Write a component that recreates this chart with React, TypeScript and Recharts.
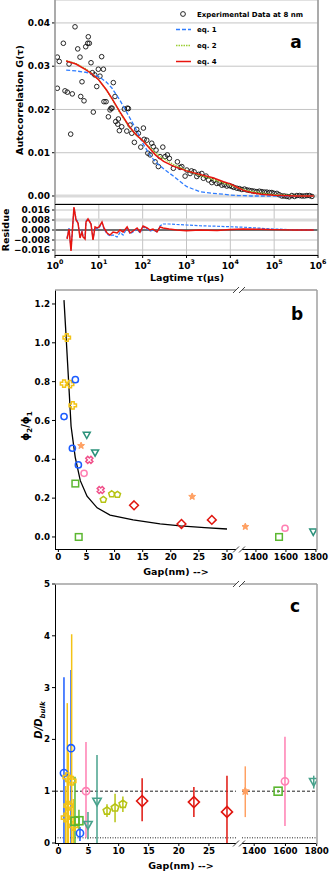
import React from 'react';
import {
  ScatterChart,
  Scatter,
  XAxis,
  YAxis,
  CartesianGrid,
  ReferenceLine,
  ErrorBar,
} from 'recharts';

const FONT = '"DejaVu Sans", Verdana, sans-serif';

// ---------- panel a : autocorrelation ----------
const LOG_TICKS = [1, 10, 100, 1000, 10000, 100000, 1000000];
const G_TICKS = [0, 0.01, 0.02, 0.03, 0.04];
const RES_TICKS = [-0.016, -0.008, 0, 0.008, 0.016];

const expTau = [
  1.13, 1.25, 1.13, 1.55, 1.69, 1.91, 2.09, 2.28, 2.48, 2.86,
  3.3, 3.72, 3.86, 4.13, 4.59, 5.02, 5.58, 5.75, 6.07, 6.63,
  7.11, 7.48, 8.06, 8.96, 9.74, 10.6, 11.6, 12.7, 13.1, 14.6,
  16.5, 18.0, 19.0, 20.0, 21.4, 23.4, 24.3, 27.0, 27.9, 29.4,
  33.3, 38.2, 43.4, 44.8, 47.2, 51.6, 56.4, 64.7, 73.3, 79.8,
  90.6, 104, 108, 124, 131, 148, 161, 175, 192, 202,
  228, 249, 288, 324, 366, 407, 502, 620, 714, 781,
  929, 1016, 1208, 1300, 1492, 1718, 1900, 2235, 2432, 2800,
  3163, 3782, 4200, 4922, 5600, 6397, 7300, 8318, 9500, 10820,
  12000, 14060, 16000, 18320, 21000, 23810, 27000, 30970, 35000, 40270,
  46000, 52360, 60000, 68080, 78000, 88510, 100000, 115300, 130000, 149900,
  170000, 195000, 220000, 253500, 290000, 329600, 380000, 428600, 490000, 558000,
  640000, 725600,
];
const expG = [
  0.0321, 0.0311, 0.0249, 0.0353, 0.0243, 0.024, 0.0305, 0.0143, 0.0236, 0.0391,
  0.034, 0.0321, 0.023, 0.0264, 0.022, 0.0345, 0.0353, 0.0368, 0.0353, 0.0308,
  0.0285, 0.0194, 0.028, 0.0253, 0.0293, 0.0277, 0.0322, 0.0293, 0.0218, 0.0218,
  0.0183, 0.0199, 0.0203, 0.0203, 0.0262, 0.023, 0.0172, 0.0166, 0.0178, 0.0151,
  0.016, 0.0201, 0.015, 0.0203, 0.0202, 0.0164, 0.0145, 0.0124, 0.0154, 0.0145,
  0.0113, 0.0157, 0.0131, 0.0129, 0.0099, 0.0095, 0.0122, 0.0114, 0.0079, 0.0106,
  0.0068, 0.0091, 0.0113, 0.0091, 0.0095, 0.0087, 0.0064, 0.0079, 0.0066, 0.0068,
  0.0046, 0.006, 0.0052, 0.0058, 0.0056, 0.0045, 0.005, 0.0052, 0.0041, 0.0046,
  0.0037, 0.0031, 0.0036, 0.0029, 0.003, 0.0025, 0.0026, 0.0023, 0.0024, 0.0022,
  0.002, 0.0018, 0.0017, 0.0015, 0.0016, 0.0014, 0.0013, 0.0012, 0.0011, 0.001,
  0.0011, 0.001, 0.0009, 0.0009, 0.0008, 0.0008, 0.0006, 0.0006, 0.0003, 0.0,
  0.0, -0.0001, -0.0002, 0.0001, -0.0001, 0.0001, 0.0001, 0.0, 0.0, 0.0001,
  0.0001, -0.0001,
];

const fitTau = [
  1.8, 3, 5, 7, 10, 15, 20, 30, 50, 70, 100, 150, 200, 300, 500, 1000, 2000,
  4000, 7000, 10000, 15000, 20000, 30000, 50000, 100000, 300000, 800000,
];
const fitEq1 = [
  0.0291, 0.0289, 0.0286, 0.0282, 0.0276, 0.0263, 0.0249, 0.0222, 0.0182,
  0.0155, 0.0122, 0.0093, 0.0078, 0.0063, 0.0046, 0.0022, 0.001, 0.0006,
  0.0004, 0.0002, 0.0001, 0.0001, 0.0, 0.0, 0.0, 0.0, 0.0,
];
const fitEq2 = [
  0.0313, 0.0306, 0.0294, 0.0283, 0.0268, 0.0244, 0.0224, 0.0193, 0.0158,
  0.0141, 0.0128, 0.0111, 0.0099, 0.0086, 0.0073, 0.0059, 0.0048, 0.0038,
  0.003, 0.0025, 0.0019, 0.0015, 0.0011, 0.0007, 0.0003, 0.0001, 0.0,
];
const fitEq4 = [
  0.0312, 0.0305, 0.0292, 0.0282, 0.0268, 0.0245, 0.0225, 0.0195, 0.016,
  0.0142, 0.0128, 0.0108, 0.0094, 0.008, 0.0069, 0.0058, 0.005, 0.0042,
  0.0033, 0.0028, 0.0019, 0.0013, 0.0008, 0.0004, 0.0002, 0.0, 0.0,
];

const resTau = [
  1.88, 2.09, 2.32, 2.71, 3.02, 3.35, 3.72, 4.13, 4.36, 4.84,
  5.1, 5.66, 6.63, 7.37, 8.19, 9.1, 10.1, 11.8, 13.1, 15.4,
  18, 21.1, 26.1, 30.5, 35.8, 44.2, 51.6, 60.3, 74.6, 87.1,
  102, 126, 147, 172, 212, 249, 292, 400, 600, 1000,
  2000, 5000, 10000, 20000, 50000, 100000, 300000, 800000,
];
const resEq1 = [
  -0.0064, 0.0016, -0.016, 0.0176, 0.0088, 0.0064, -0.0056, -0.0008, -0.0048, -0.0064,
  0.0072, 0.0088, 0.0056, -0.0072, 0.0016, 0.0008, 0.0016, 0.0056, 0.0008, -0.0032,
  -0.0048, -0.004, -0.0056, -0.002, -0.004, 0.0016, -0.003, -0.0016, 0.0008, -0.0024,
  0.0024, 0.0008, -0.0008, 0, -0.0016, 0.0032, 0.0048, 0.0048, 0.0044, 0.004,
  0.0034, 0.003, 0.0026, 0.0022, 0.0014, 0.0008, 0.0002, 0,
];
const resEq4 = [
  -0.0072, 0.0008, -0.0168, 0.0184, 0.008, 0.0056, -0.0064, -0.0016, -0.0056, -0.0072,
  0.0064, 0.0088, 0.0048, -0.008, 0.0024, 0.0016, 0.0024, 0.0064, 0.0016, -0.0024,
  -0.004, -0.0016, -0.0024, 0, -0.0016, 0.0024, -0.0024, -0.0008, 0.0016, -0.0016,
  0.0032, 0.0016, 0, 0.0008, -0.0016, 0.0024, 0.0016, 0.0008, 0, -0.0005,
  0, -0.0003, 0.0004, 0.0008, 0.0006, 0.0003, 0, 0,
];

// ---------- panel b : phi2/phi1 vs gap ----------
const GAP_TICKS_B = [0, 5, 10, 15, 20, 25, 30];
const GAP_TICKS_C = [0, 5, 10, 15, 20, 25];
const FAR_TICKS = [1400, 1600, 1800];
const PHI_TICKS = [0, 0.2, 0.4, 0.6, 0.8, 1.0, 1.2];
const D_TICKS = [0, 1, 2, 3, 4, 5];

const curveGap = [1.0, 1.3, 1.64, 2.0, 2.26, 3.0, 3.9, 5.1, 6.9, 9.2, 13.3, 18.1, 21.7, 26, 30];
const curveRatio = [1.22, 1.07, 0.895, 0.708, 0.57, 0.41, 0.29, 0.21, 0.15, 0.113, 0.088, 0.067, 0.057, 0.048, 0.041];

const bBlueGap = [1.01, 2.49, 3.02, 3.56];
const bBlueRatio = [0.62, 0.457, 0.81, 0.371];
const bGoldGap = [1.49, 1.01, 2.08, 2.56];
const bGoldRatio = [1.027, 0.79, 0.787, 0.678];
const bTealGap = [5.05, 6.53, 1782];
const bTealRatio = [0.525, 0.434, 0.026];
const bStarGap = [4.04, 23.8, 1329];
const bStarRatio = [0.47, 0.208, 0.053];
const bPinkXGap = [5.51, 7.53];
const bPinkXRatio = [0.397, 0.242];
const bPinkOGap = [4.57, 1594];
const bPinkORatio = [0.328, 0.045];
const bGreenGap = [3.02, 3.62, 1554];
const bGreenRatio = [0.275, 0.0, 0.0];
const bPentGap = [8.0, 9.5, 10.5];
const bPentRatio = [0.192, 0.221, 0.218];
const bRedGap = [13.46, 21.9, 27.3];
const bRedRatio = [0.163, 0.067, 0.088];

// ---------- panel c : D/Dbulk vs gap ----------
const cBlueGap = [0.91, 2.08, 3.57];
const cBlueD = [1.35, 1.83, 0.19];
const cBlueLo = [0, 0, 0.04];
const cBlueHi = [3.2, 3.34, 0.31];
const cGoldGap = [1.19, 1.46, 1.63, 2.19, 2.46];
const cGoldD = [0.49, 1.27, 0.72, 1.2, 0.33];
const cGoldLo = [0, 0, 0, 0, 0];
const cGoldHi = [1.1, 2.7, 1.75, 4.03, 0.85];
const cGreenGap = [2.74, 3.4, 1553];
const cGreenD = [0.42, 0.43, 1.0];
const cGreenLo = [0, 0.25, 0.97];
const cGreenHi = [1.28, 0.64, 1.03];
const cPinkGap = [4.57, 1597];
const cPinkD = [1.0, 1.19];
const cPinkLo = [0.1, 0.33];
const cPinkHi = [1.95, 2.05];
const cTealGap = [4.9, 6.4, 1781];
const cTealD = [0.35, 0.8, 1.18];
const cTealLo = [0.07, 0, 1.05];
const cTealHi = [0.6, 1.7, 1.3];
const cPentGap = [8.06, 9.4, 10.7];
const cPentD = [0.62, 0.68, 0.75];
const cPentLo = [0.5, 0.4, 0.6];
const cPentHi = [0.75, 0.95, 0.9];
const cRedGap = [13.9, 22.5, 28.0];
const cRedD = [0.81, 0.79, 0.6];
const cRedLo = [0.42, 0.5, 0];
const cRedHi = [1.25, 1.08, 1.3];
const cStarGap = [1343];
const cStarD = [1.0];
const cStarLo = [0.5];
const cStarHi = [1.48];

// ---------- helpers ----------
const zip = (xs: number[], ys: number[]) => xs.map((x, i) => ({ x, y: ys[i] }));
const zipErr = (xs: number[], ys: number[], lo: number[], hi: number[]) =>
  xs.map((x, i) => ({ x, y: ys[i], e: [ys[i] - lo[i], hi[i] - ys[i]] }));
const near = (d: any[]) => d.filter((p) => p.x < 100);
const far = (d: any[]) => d.filter((p) => p.x > 1000);

const MINOR: number[] = [];
for (let d = 0; d < 6; d++) for (let k = 2; k < 10; k++) MINOR.push(k * Math.pow(10, d));

const C = {
  blue: '#1b5cff',
  gold: '#f3c316',
  teal: '#2a917a',
  tealC: '#48a28c',
  star: '#ffa062',
  pinkX: '#f0508a',
  pinkO: '#ff7fb2',
  green: '#5cb731',
  pent: '#b7c414',
  red: '#e0160f',
  eq1: '#2f7dff',
  eq2: '#9acd32',
  eq4: '#e8150f',
};

const pts = (arr: number[][], cx: number, cy: number) =>
  arr.map(([a, b]) => `${cx + a},${cy + b}`).join(' ');

const polar = (n: number, r1: number, r2: number) => {
  const out: number[][] = [];
  const m = r2 > 0 ? n * 2 : n;
  for (let i = 0; i < m; i++) {
    const r = r2 > 0 && i % 2 === 1 ? r2 : r1;
    const a = -Math.PI / 2 + (i * 2 * Math.PI) / m;
    out.push([r * Math.cos(a), r * Math.sin(a)]);
  }
  return out;
};

const mk = (kind: string, color: string, s: number, sw = 1.5, filled = false) => (p: any) => {
  const { cx, cy } = p;
  if (cx == null || cy == null) return <g />;
  const st = { fill: filled ? color : 'none', stroke: color, strokeWidth: sw };
  const t = s * 0.38;
  const plus = [
    [-t, -s], [t, -s], [t, -t], [s, -t], [s, t], [t, t],
    [t, s], [-t, s], [-t, t], [-s, t], [-s, -t], [-t, -t],
  ];
  switch (kind) {
    case 'circle':
      return <circle cx={cx} cy={cy} r={s} {...st} />;
    case 'square':
      return <rect x={cx - s} y={cy - s} width={2 * s} height={2 * s} {...st} />;
    case 'diamond':
      return <polygon points={pts([[0, -s], [s, 0], [0, s], [-s, 0]], cx, cy)} {...st} />;
    case 'tri':
      return <polygon points={pts([[-s, -s * 0.8], [s, -s * 0.8], [0, s * 1.0]], cx, cy)} {...st} />;
    case 'plus':
      return <polygon points={pts(plus, cx, cy)} {...st} />;
    case 'x': {
      const c = Math.SQRT1_2;
      const rot = plus.map(([a, b]) => [(a - b) * c, (a + b) * c]);
      return <polygon points={pts(rot, cx, cy)} {...st} />;
    }
    case 'star':
      return <polygon points={pts(polar(5, s, s * 0.45), cx, cy)} {...st} />;
    case 'pent':
      return <polygon points={pts(polar(5, s, 0), cx, cy)} {...st} />;
    default:
      return <g />;
  }
};

const noMark = () => <g />;
const expMark = (p: any) =>
  p.cx == null ? <g /> : <circle cx={p.cx} cy={p.cy} r={2.3} fill="none" stroke="#111" strokeWidth={0.9} />;

const TICK = { fontSize: 9, fontWeight: 'bold', fill: '#000', fontFamily: FONT };
const TICK_B = { fontSize: 8.7, fontWeight: 'bold', fill: '#000', fontFamily: FONT };

const PowTick = (props: any) => {
  const { x, y, payload } = props;
  const e = Math.round(Math.log10(payload.value));
  return (
    <text x={x} y={y + 8.5} textAnchor="middle" fill="#000" style={{ fontFamily: FONT, fontWeight: 'bold', fontSize: 9 }}>
      <tspan>10</tspan>
      <tspan dy={-4.5} fontSize={6.3}>{e}</tspan>
    </text>
  );
};

const minus = (v: number, d: number) => (v < 0 ? '\u2212' : '') + Math.abs(v).toFixed(d);

// ---------- data tables ----------
const expData = zip(expTau, expG);
const eq1Data = zip(fitTau, fitEq1);
const eq2Data = zip(fitTau, fitEq2);
const eq4Data = zip(fitTau, fitEq4);
const res1Data = zip(resTau, resEq1);
const res4Data = zip(resTau, resEq4);
const curveData = zip(curveGap, curveRatio);

const bSeries = [
  { data: zip(bGreenGap, bGreenRatio), shape: mk('square', C.green, 3.3) },
  { data: zip(bTealGap, bTealRatio), shape: mk('tri', C.teal, 3.5) },
  { data: zip(bPinkOGap, bPinkORatio), shape: mk('circle', C.pinkO, 3.1) },
  { data: zip(bPinkXGap, bPinkXRatio), shape: mk('x', C.pinkX, 3.6) },
  { data: zip(bStarGap, bStarRatio), shape: mk('star', C.star, 3.6, 1, true) },
  { data: zip(bPentGap, bPentRatio), shape: mk('pent', C.pent, 3.3) },
  { data: zip(bRedGap, bRedRatio), shape: mk('diamond', C.red, 4.4) },
  { data: zip(bGoldGap, bGoldRatio), shape: mk('plus', C.gold, 3.7) },
  { data: zip(bBlueGap, bBlueRatio), shape: mk('circle', C.blue, 3.1) },
];

const cSeries = [
  { data: zipErr(cBlueGap, cBlueD, cBlueLo, cBlueHi), color: C.blue, shape: mk('circle', C.blue, 3.6, 1.6) },
  { data: zipErr(cGoldGap, cGoldD, cGoldLo, cGoldHi), color: C.gold, shape: mk('plus', C.gold, 4.2, 1.6) },
  { data: zipErr(cGreenGap, cGreenD, cGreenLo, cGreenHi), color: C.green, shape: mk('square', C.green, 4, 1.6) },
  { data: zipErr(cPinkGap, cPinkD, cPinkLo, cPinkHi), color: C.pinkO, shape: mk('circle', C.pinkO, 3.6, 1.6) },
  { data: zipErr(cTealGap, cTealD, cTealLo, cTealHi), color: C.tealC, shape: mk('tri', C.tealC, 4.2, 1.6) },
  { data: zipErr(cPentGap, cPentD, cPentLo, cPentHi), color: C.pent, shape: mk('pent', C.pent, 4, 1.6) },
  { data: zipErr(cRedGap, cRedD, cRedLo, cRedHi), color: C.red, shape: mk('diamond', C.red, 5.5, 1.6) },
  { data: zipErr(cStarGap, cStarD, cStarLo, cStarHi), color: C.star, shape: mk('star', C.star, 4.2, 1, true) },
];

// ---------- frames and decorations ----------
const Break = ({ x, y }: { x: number; y: number }) => (
  <line x1={x - 3} y1={y + 3} x2={x + 3} y2={y - 3} stroke="#444" strokeWidth={1} />
);

const BrokenFrame = ({ top, bottom }: { top: number; bottom: number }) => (
  <g>
    <line x1={55.5} y1={top} x2={55.5} y2={bottom} stroke="#000" strokeWidth={1} />
    <line x1={55} y1={bottom + 0.5} x2={236} y2={bottom + 0.5} stroke="#000" strokeWidth={1} />
    <line x1={242} y1={bottom + 0.5} x2={317} y2={bottom + 0.5} stroke="#000" strokeWidth={1} />
    <line x1={55} y1={top} x2={236} y2={top} stroke="#a0a0a0" strokeWidth={1.5} />
    <line x1={242} y1={top} x2={317} y2={top} stroke="#a0a0a0" strokeWidth={1.5} />
    <line x1={317} y1={top} x2={317} y2={bottom + 1} stroke="#a0a0a0" strokeWidth={1.5} />
    <Break x={236} y={top} />
    <Break x={242} y={top} />
    <Break x={236} y={bottom + 0.5} />
    <Break x={242} y={bottom + 0.5} />
  </g>
);

const bold = { fontFamily: FONT, fontWeight: 'bold' as const, fill: '#000' };

export default function App() {
  return (
    <div style={{ position: 'absolute', left: 0, top: 0, width: 332, height: 871, background: '#fff', fontFamily: FONT }}>
      {/* panel a : G(tau) */}
      <div style={{ position: 'absolute', left: 0, top: 0 }}>
        <ScatterChart width={332} height={206} margin={{ top: 0, right: 14, bottom: 2, left: 0 }}>
          <CartesianGrid stroke="#c4c4c4" strokeWidth={1} />
          <XAxis type="number" dataKey="x" scale="log" domain={[1, 1000000]} ticks={LOG_TICKS} allowDataOverflow
            interval={0} height={0} tick={false} axisLine={false} tickLine={false} />
          <YAxis type="number" dataKey="y" domain={[-0.00185, 0.0453]} ticks={G_TICKS} allowDataOverflow width={55}
            interval={0} tickSize={3} tickMargin={2} axisLine={false} tick={TICK} tickLine={{ stroke: '#000' }}
            tickFormatter={(v: number) => v.toFixed(2)} />
          <ReferenceLine y={0} stroke="#dadada" strokeWidth={3} />
          <Scatter data={expData} shape={expMark} isAnimationActive={false} />
          <Scatter data={eq1Data} fill={C.eq1} shape={noMark} isAnimationActive={false}
            line={{ stroke: C.eq1, strokeWidth: 1.3, strokeDasharray: '4 2' }} />
          <Scatter data={eq2Data} fill={C.eq2} shape={noMark} isAnimationActive={false}
            line={{ stroke: C.eq2, strokeWidth: 1.4, strokeDasharray: '1.5 1' }} />
          <Scatter data={eq4Data} fill={C.eq4} shape={noMark} isAnimationActive={false}
            line={{ stroke: C.eq4, strokeWidth: 1.5 }} />
        </ScatterChart>
      </div>

      {/* panel a : residue */}
      <div style={{ position: 'absolute', left: 0, top: 200 }}>
        <ScatterChart width={332} height={75} margin={{ top: 4, right: 14, bottom: 0, left: 0 }}>
          <CartesianGrid stroke="#c4c4c4" strokeWidth={1} />
          <XAxis type="number" dataKey="x" scale="log" domain={[1, 1000000]} ticks={LOG_TICKS} allowDataOverflow
            interval={0} height={20} tickSize={3} axisLine={false} tick={<PowTick />} tickLine={{ stroke: '#000' }} />
          <XAxis xAxisId="minor" orientation="top" type="number" scale="log" domain={[1, 1000000]} ticks={MINOR}
            interval={0} allowDataOverflow height={0} mirror tick={false} axisLine={false} tickSize={2}
            tickLine={{ stroke: '#000' }} />
          <YAxis type="number" dataKey="y" domain={[-0.02, 0.0208]} ticks={RES_TICKS} allowDataOverflow width={55}
            interval={0} tickSize={3} tickMargin={2} axisLine={false} tick={TICK} tickLine={{ stroke: '#000' }}
            tickFormatter={(v: number) => minus(v, 3)} />
          <ReferenceLine y={0.008} stroke="#dadada" strokeWidth={3} />
          <ReferenceLine y={0} stroke="#000" strokeWidth={1} />
          <Scatter data={res1Data} fill={C.eq1} shape={noMark} isAnimationActive={false}
            line={{ stroke: C.eq1, strokeWidth: 1.2, strokeDasharray: '3 1.5' }} />
          <Scatter data={res4Data} fill={C.eq4} shape={noMark} isAnimationActive={false}
            line={{ stroke: C.eq4, strokeWidth: 1.5 }} />
        </ScatterChart>
      </div>

      {/* panel b : left (0-30 nm) */}
      <div style={{ position: 'absolute', left: 0, top: 280 }}>
        <ScatterChart width={236} height={289} margin={{ top: 10, right: 0, bottom: 0, left: 0 }}>
          <XAxis type="number" dataKey="x" domain={[-0.6, 31.6]} ticks={GAP_TICKS_B} allowDataOverflow height={20}
            interval={0} tickSize={3} tickMargin={2} axisLine={false} tick={TICK_B} tickLine={{ stroke: '#000' }} />
          <YAxis type="number" dataKey="y" domain={[-0.062, 1.272]} ticks={PHI_TICKS} allowDataOverflow width={55}
            interval={0} tickSize={3} tickMargin={2} axisLine={false} tick={TICK_B} tickLine={{ stroke: '#000' }}
            tickFormatter={(v: number) => v.toFixed(1)} />
          <Scatter data={curveData} fill="#000" shape={noMark} isAnimationActive={false}
            line={{ stroke: '#000', strokeWidth: 1.3 }} />
          {bSeries.map((s, i) => (
            <Scatter key={i} data={near(s.data)} shape={s.shape} isAnimationActive={false} />
          ))}
        </ScatterChart>
      </div>

      {/* panel b : right (far gaps) */}
      <div style={{ position: 'absolute', left: 242, top: 280 }}>
        <ScatterChart width={90} height={289} margin={{ top: 10, right: 15, bottom: 0, left: 0 }}>
          <XAxis type="number" dataKey="x" domain={[1307, 1807]} ticks={FAR_TICKS} allowDataOverflow height={20}
            interval={0} tickSize={3} tickMargin={2} axisLine={false} tick={TICK_B} tickLine={{ stroke: '#000' }} />
          <YAxis type="number" dataKey="y" domain={[-0.062, 1.272]} allowDataOverflow hide />
          {bSeries.map((s, i) => (
            <Scatter key={i} data={far(s.data)} shape={s.shape} isAnimationActive={false} />
          ))}
        </ScatterChart>
      </div>

      {/* panel c : left */}
      <div style={{ position: 'absolute', left: 0, top: 574 }}>
        <ScatterChart width={236} height={289} margin={{ top: 10, right: 0, bottom: 0, left: 0 }}>
          <XAxis type="number" dataKey="x" domain={[-0.58, 29.5]} ticks={GAP_TICKS_C} allowDataOverflow height={20}
            interval={0} tickSize={3} tickMargin={2} axisLine={false} tick={TICK_B} tickLine={{ stroke: '#000' }} />
          <YAxis type="number" dataKey="y" domain={[0, 5]} ticks={D_TICKS} allowDataOverflow width={55}
            interval={0} tickSize={3} tickMargin={2} axisLine={false} tick={TICK_B} tickLine={{ stroke: '#000' }} />
          <ReferenceLine y={1} stroke="#222" strokeWidth={1} strokeDasharray="3 2" />
          <ReferenceLine y={0.1} stroke="#222" strokeWidth={1} strokeDasharray="1 1.5" />
          {cSeries.map((s, i) => (
            <Scatter key={i} data={near(s.data)} shape={s.shape} isAnimationActive={false}>
              <ErrorBar dataKey="e" direction="y" width={0} stroke={s.color} strokeWidth={1.5} isAnimationActive={false} />
            </Scatter>
          ))}
        </ScatterChart>
      </div>

      {/* panel c : right */}
      <div style={{ position: 'absolute', left: 242, top: 574 }}>
        <ScatterChart width={90} height={289} margin={{ top: 10, right: 15, bottom: 0, left: 0 }}>
          <XAxis type="number" dataKey="x" domain={[1322, 1802]} ticks={FAR_TICKS} allowDataOverflow height={20}
            interval={0} tickSize={3} tickMargin={2} axisLine={false} tick={TICK_B} tickLine={{ stroke: '#000' }} />
          <YAxis type="number" dataKey="y" domain={[0, 5]} allowDataOverflow hide />
          <ReferenceLine y={1} stroke="#222" strokeWidth={1} strokeDasharray="3 2" />
          <ReferenceLine y={0.1} stroke="#222" strokeWidth={1} strokeDasharray="1 1.5" />
          {cSeries.map((s, i) => (
            <Scatter key={i} data={far(s.data)} shape={s.shape} isAnimationActive={false}>
              <ErrorBar dataKey="e" direction="y" width={0} stroke={s.color} strokeWidth={1.5} isAnimationActive={false} />
            </Scatter>
          ))}
        </ScatterChart>
      </div>

      {/* frames, labels, legend */}
      <svg width={332} height={871} style={{ position: 'absolute', left: 0, top: 0, pointerEvents: 'none' }}>
        {/* panel a frames */}
        <line x1={55} y1={0} x2={55} y2={255} stroke="#999" strokeWidth={1.5} />
        <line x1={318} y1={0} x2={318} y2={255} stroke="#999" strokeWidth={1.5} />
        <line x1={55} y1={204.5} x2={318} y2={204.5} stroke="#000" strokeWidth={1} />
        <line x1={55} y1={255.5} x2={318} y2={255.5} stroke="#000" strokeWidth={1} />

        <text transform="translate(23,100) rotate(-90)" textAnchor="middle" fontSize={9.5} {...bold}>
          Autocorrelation G(τ)
        </text>
        <text transform="translate(9,230) rotate(-90)" textAnchor="middle" fontSize={9.5} {...bold}>
          Residue
        </text>
        <text x={187} y={281} textAnchor="middle" fontSize={9.5} {...bold}>Lagtime τ(μs)</text>
        <text x={296} y={48} textAnchor="middle" fontSize={17} {...bold}>a</text>

        {/* legend */}
        <circle cx={183} cy={14} r={2.4} fill="none" stroke="#111" strokeWidth={0.9} />
        <text x={197} y={16.5} fontSize={7} {...bold}>Experimental Data at 8 nm</text>
        <line x1={176} y1={29.5} x2={191} y2={29.5} stroke={C.eq1} strokeWidth={1.3} strokeDasharray="4 2" />
        <text x={197} y={32} fontSize={7} {...bold}>eq. 1</text>
        <line x1={176} y1={45.5} x2={191} y2={45.5} stroke={C.eq2} strokeWidth={1.4} strokeDasharray="1.5 1" />
        <text x={197} y={48} fontSize={7} {...bold}>eq. 2</text>
        <line x1={176} y1={61.5} x2={191} y2={61.5} stroke={C.eq4} strokeWidth={1.5} />
        <text x={197} y={64} fontSize={7} {...bold}>eq. 4</text>

        {/* panel b */}
        <BrokenFrame top={290} bottom={549} />
        <text x={297} y={320} textAnchor="middle" fontSize={17} {...bold}>b</text>
        <text transform="translate(29,426) rotate(-90)" textAnchor="middle" fontSize={10} {...bold}>
          <tspan>ϕ</tspan>
          <tspan dy={2.5} fontSize={7}>2</tspan>
          <tspan dy={-2.5}>/ϕ</tspan>
          <tspan dy={2.5} fontSize={7}>1</tspan>
        </text>
        <text x={176} y={575} textAnchor="middle" fontSize={9.5} {...bold}>Gap(nm) --&gt;</text>

        {/* panel c */}
        <BrokenFrame top={584} bottom={843} />
        <text x={295} y={612} textAnchor="middle" fontSize={17} {...bold}>c</text>
        <text transform="translate(42,720) rotate(-90)" textAnchor="middle" fontSize={10} fontStyle="italic" {...bold}>
          <tspan>D/D</tspan>
          <tspan dy={2.5} fontSize={7}>bulk</tspan>
        </text>
        <text x={181} y={869} textAnchor="middle" fontSize={9.5} {...bold}>Gap(nm) --&gt;</text>
      </svg>
    </div>
  );
}
